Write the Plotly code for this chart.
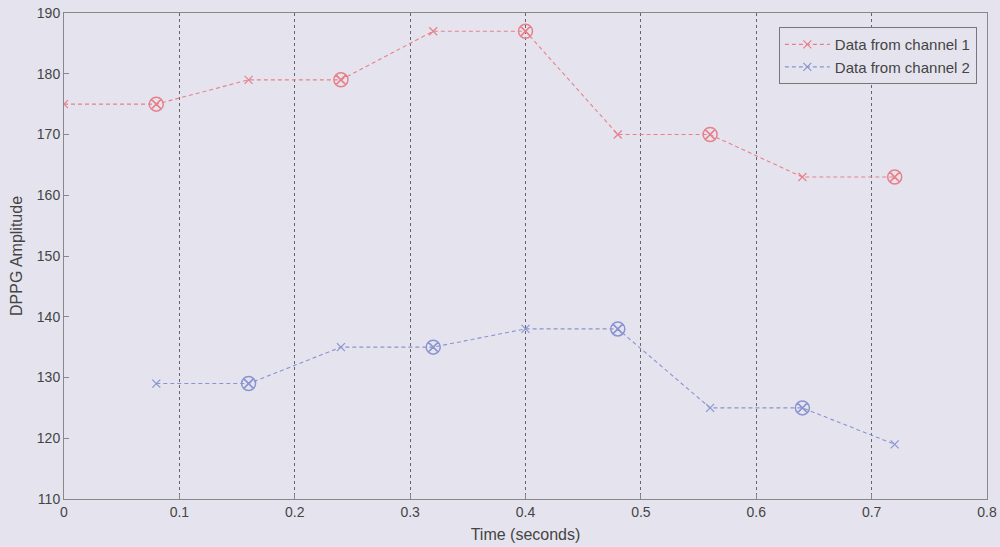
import plotly.graph_objects as go

time1 = [0.0, 0.08, 0.16, 0.24, 0.32, 0.40, 0.48, 0.56, 0.64, 0.72]
ch1 = [175, 175, 179, 179, 187, 187, 170, 170, 163, 163]
time2 = [0.08, 0.16, 0.24, 0.32, 0.40, 0.48, 0.56, 0.64, 0.72]
ch2 = [129, 129, 135, 135, 138, 138, 125, 125, 119]

x_ticks = [0, 0.1, 0.2, 0.3, 0.4, 0.5, 0.6, 0.7, 0.8]
x_labels = ["0", "0.1", "0.2", "0.3", "0.4", "0.5", "0.6", "0.7", "0.8"]
y_ticks = [110, 120, 130, 140, 150, 160, 170, 180, 190]

red = "#e8808a"
blue = "#8a94d0"

# circled samples: alternate points
c1x = time1[1::2]; c1y = ch1[1::2]
c2x = time2[1::2]; c2y = ch2[1::2]

fig = go.Figure()
fig.add_trace(go.Scatter(x=time1, y=ch1, mode="lines+markers", name="Data from channel 1",
                         line=dict(color=red, width=1.1, dash="4px,3px"),
                         marker=dict(symbol="x-thin-open", size=8, line=dict(color=red, width=1.2))))
fig.add_trace(go.Scatter(x=time2, y=ch2, mode="lines+markers", name="Data from channel 2",
                         line=dict(color=blue, width=1.1, dash="4px,3px"),
                         marker=dict(symbol="x-thin-open", size=8, line=dict(color=blue, width=1.2))))
fig.add_trace(go.Scatter(x=c1x, y=c1y, mode="markers", showlegend=False,
                         marker=dict(symbol="circle-x-open", size=14, color=red, line=dict(color=red, width=1.5))))
fig.add_trace(go.Scatter(x=c2x, y=c2y, mode="markers", showlegend=False,
                         marker=dict(symbol="circle-x-open", size=14, color=blue, line=dict(color=blue, width=1.5))))

bg = "#e5e4ee"
fig.update_layout(
    width=1000, height=547,
    margin=dict(l=64, r=13, t=13, b=48),
    paper_bgcolor=bg, plot_bgcolor=bg,
    font=dict(family="Liberation Sans, Arial, sans-serif", size=14, color="#444444"),
    showlegend=True,
    legend=dict(x=0.989, y=0.971, xanchor="right", yanchor="top",
                bgcolor=bg, bordercolor="#777777", borderwidth=1, itemwidth=45,
                font=dict(size=15, color="#444444"), tracegroupgap=0),
)
fig.update_xaxes(range=[0, 0.8], tickvals=x_ticks, ticktext=x_labels,
                 tickfont=dict(size=14),
                 showgrid=True, gridcolor="#666666", griddash="3px,3px", gridwidth=1,
                 showline=True, linecolor="#888888", mirror=True, linewidth=1,
                 ticks="inside", ticklen=5, tickcolor="#888888",
                 zeroline=False, automargin=False,
                 title=dict(text="Time (seconds)", font=dict(size=16), standoff=10))
fig.update_yaxes(range=[110, 190], tickvals=y_ticks,
                 tickfont=dict(size=14),
                 showgrid=False,
                 showline=True, linecolor="#888888", mirror=True, linewidth=1,
                 ticks="inside", ticklen=5, tickcolor="#888888",
                 zeroline=False, automargin=False,
                 title=dict(text="DPPG Amplitude", font=dict(size=16), standoff=10))

fig.write_html("out.html")
